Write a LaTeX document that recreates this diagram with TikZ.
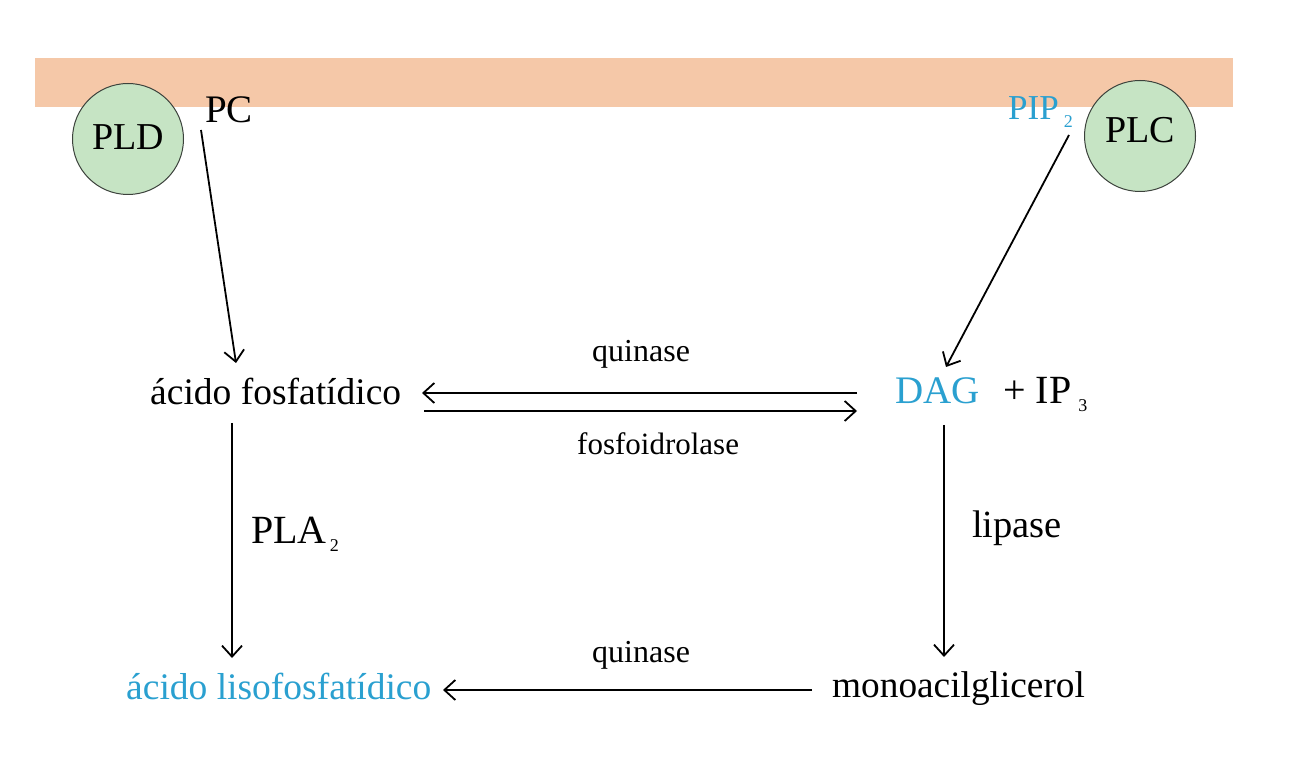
\documentclass[tikz,border=0pt]{standalone}
\usepackage{fontspec}
\setmainfont{Liberation Serif}
\usetikzlibrary{arrows.meta,calc}
\definecolor{memb}{RGB}{245,200,168}
\definecolor{enzfill}{RGB}{198,228,196}
\definecolor{enzline}{RGB}{60,66,60}
\definecolor{lipblue}{RGB}{42,160,208}
\newcommand{\fsz}[1]{\fontsize{#1}{#1}\selectfont}
\newcommand{\subsc}[2]{\kern#1pt\raisebox{-8pt}{\fsz{18}#2}}
\begin{document}
\begin{tikzpicture}[x=1pt,y=-1pt,
  txt/.style={inner sep=0pt, anchor=base west},
  enz/.style={circle, draw=enzline, line width=1pt, fill=enzfill, inner sep=0pt, minimum size=111pt, font=\fsz{38}},
  arr/.style={line width=1.8pt, -{Straight Barb[length=11pt,width=20pt]}}]
\useasboundingbox (0,0) rectangle (1299,783);
\fill[white] (0,0) rectangle (1299,783);
\fill[memb] (35,58) rectangle (1233,107);
% enzymes
\node[enz, text height=25pt, text depth=3pt] (pld) at (128,139) {PLD};
\node[enz, text height=25pt, text depth=11pt] (plc) at (1140,136) {PLC};
% texts
\node[txt, font=\fsz{39}] (pc) at (205,123) {PC};
\node[txt, font=\fsz{35}, text=lipblue] (pip) at (1008,120) {PIP\subsc{5}{2}};
\node[txt, font=\fsz{37.5}] (af) at (150,405) {ácido fosfatídico};
\node[txt, font=\fsz{39}, text=lipblue] (dag) at (895,404) {DAG};
\node[txt, font=\fsz{40}] (ip) at (1003,404) {+ IP\subsc{7}{3}};
\node[txt, font=\fsz{32}] (q1) at (592,362) {quinase};
\node[txt, font=\fsz{31}] (fh) at (577,455) {fosfoidrolase};
\node[txt, font=\fsz{40}] (pla) at (251,543) {PLA\subsc{3}{2}};
\node[txt, font=\fsz{38.5}] (lip) at (972,537) {lipase};
\node[txt, font=\fsz{37.5}, text=lipblue] (lf) at (126,699) {ácido lisofosfatídico};
\node[txt, font=\fsz{37.3}] (mg) at (832,697) {monoacilglicerol};
\node[txt, font=\fsz{32}] (q2) at (592,662) {quinase};
% connectors
\draw[arr] ($(pc.base west)+(-4,7)$) -- ($(af.base west)+(86,-42)$);
\draw[arr] ($(pip.base west)+(61,15)$) -- ($(dag.base west)+(51,-37)$);
\draw[arr] ($(dag.base west)+(-38,-11)$) -- ($(af.base west)+(272,-12)$);
\draw[arr] ($(af.base west)+(274,6)$) -- ($(dag.base west)+(-38,7)$);
\draw[arr] ($(af.base west)+(82,18)$) -- ($(lf.base west)+(106,-41)$);
\draw[arr] ($(dag.base west)+(49,21)$) -- ($(mg.base west)+(112,-40)$);
\draw[arr] ($(mg.base west)+(-20,-7)$) -- ($(lf.base west)+(317,-9)$);
\end{tikzpicture}
\end{document}
